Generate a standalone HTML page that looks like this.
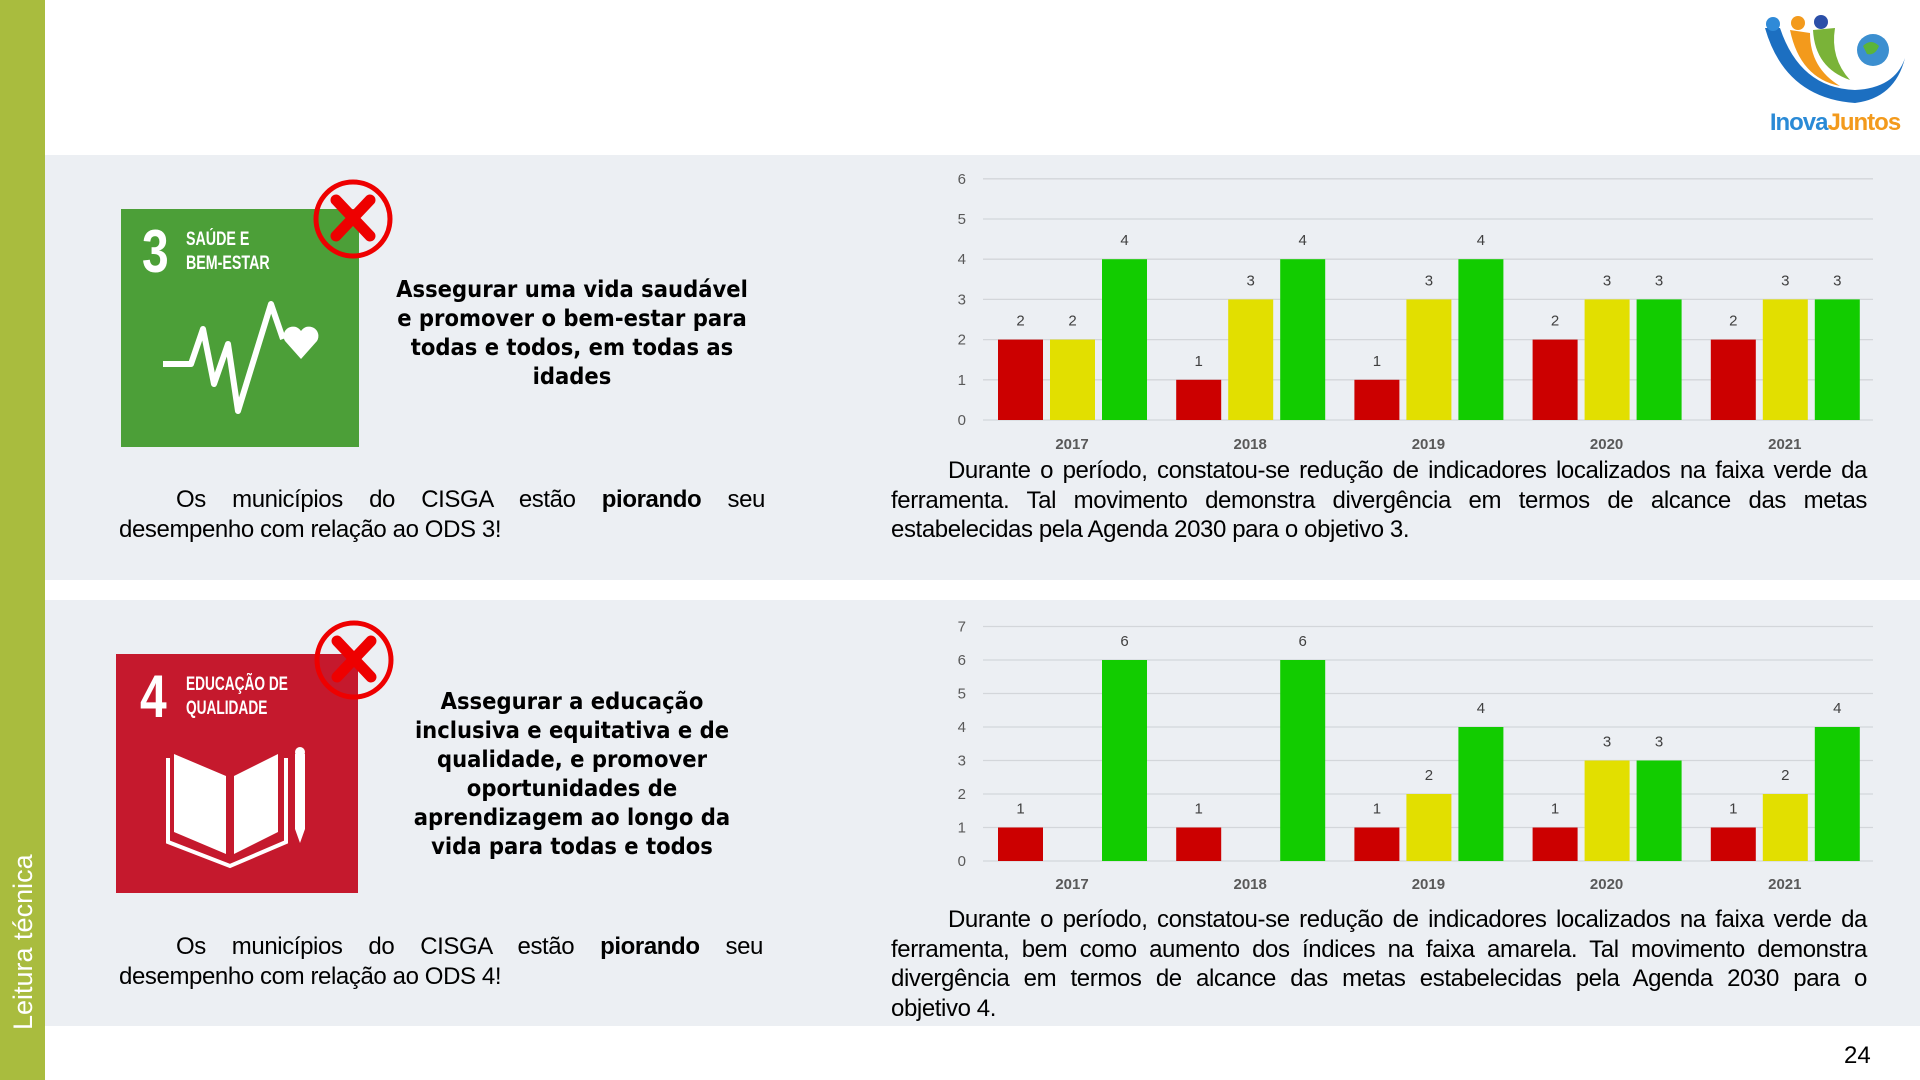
<!DOCTYPE html>
<html><head><meta charset="utf-8"><style>
*{margin:0;padding:0;box-sizing:border-box}
body{width:1920px;height:1080px;background:#fff;position:relative;overflow:hidden;font-family:"Liberation Sans","DejaVu Sans",sans-serif;color:#000}
.abs{position:absolute}
.band{position:absolute;left:45px;width:1875px;background:#eceff3}
.side{position:absolute;left:0;top:0;width:45px;height:1080px;background:#a9bc3e}
.vt{position:absolute;left:8px;top:1030px;transform-origin:0 0;transform:rotate(-90deg);color:#fff;font-size:27px;white-space:nowrap}
.title{position:absolute;text-align:center;font-weight:bold;font-size:23.5px;line-height:29px;font-family:"DejaVu Sans Condensed","Liberation Sans",sans-serif;white-space:nowrap}
.par{position:absolute;font-size:24px;line-height:29.5px;font-family:"Liberation Sans",sans-serif;letter-spacing:-0.4px;white-space:nowrap}
.par div{text-align:justify;text-align-last:justify}
.par div.l{text-align-last:left}
.par div.i{padding-left:57px}
.sdg{position:absolute;color:#fff}
.num{position:absolute;font-weight:bold;font-family:"Liberation Sans",sans-serif}
</style></head><body>
<div class="side"></div>
<div class="vt">Leitura técnica</div>
<div class="band" style="top:155px;height:425px"></div>
<div class="band" style="top:600px;height:426px"></div>

<svg class="abs" style="left:1755px;top:8px" width="160" height="130" viewBox="0 0 160 130">
<path d="M10 20 Q30 90 100 95 Q140 90 150 50 Q140 80 100 82 Q45 80 25 20Z" fill="#1c6fc1"/>
<path d="M35 22 Q45 70 85 78 Q55 60 55 25Z" fill="#f39a1c"/>
<path d="M58 22 Q60 60 95 72 Q75 50 80 20Z" fill="#7ab338"/>
<circle cx="18" cy="16" r="7" fill="#2f8ad8"/><circle cx="43" cy="15" r="7" fill="#f39a1c"/><circle cx="66" cy="14" r="7" fill="#2b4fa8"/>
<circle cx="118" cy="42" r="16" fill="#3c8fd0"/><path d="M108 38 q8-8 16 0 q-4 10-12 8z" fill="#5bb43a"/>
<text x="80" y="122" text-anchor="middle" font-family="Liberation Sans" font-weight="bold" font-size="24" letter-spacing="-1"><tspan fill="#2a8ad6">Inova</tspan><tspan fill="#f39a1c">Juntos</tspan></text>
</svg>

<div class="sdg" style="left:121px;top:209px;width:238px;height:238px;background:#4c9f38"></div>
<div class="num" style="left:142px;top:222px;color:#fff;font-size:60px;line-height:60px;transform:scaleX(.8);transform-origin:0 0">3</div>
<div class="num" style="left:186px;top:228px;color:#fff;font-size:19px;line-height:24px;transform:scaleX(.75);transform-origin:0 0;width:140px">SAÚDE E<br>BEM-ESTAR</div>
<svg class="abs" style="left:121px;top:209px" width="238" height="238">
<polyline points="42,155 70,155 82,120 93,175 107,135 117,202 150,95 162,130" fill="none" stroke="#fff" stroke-width="6" stroke-linejoin="round"/>
<path d="M180 150 l-16 -18 a9 9 0 0 1 16 -10 a9 9 0 0 1 16 10z" fill="#fff"/>
</svg>
<svg class="abs" style="left:312px;top:178px" width="82" height="82"><circle cx="41" cy="41" r="37" fill="none" stroke="#e00" stroke-width="5"/><path d="M24 22 L58 58 M58 22 L24 58" stroke="#e00" stroke-width="11" stroke-linecap="round"/></svg>
<div class="title" style="left:372px;top:275px;width:400px">Assegurar uma vida saudável<br>e promover o bem-estar para<br>todas e todos, em todas as<br>idades</div>
<div class="par" style="left:119px;top:485px;width:646px"><div class="i">Os municípios do CISGA estão <b>piorando</b> seu</div><div class="l">desempenho com relação ao ODS 3!</div></div>
<div class="par" style="left:891px;top:456px;width:976px"><div class="i">Durante o período, constatou-se redução de indicadores localizados na faixa verde da</div><div>ferramenta. Tal movimento demonstra divergência em termos de alcance das metas</div><div class="l">estabelecidas pela Agenda 2030 para o objetivo 3.</div></div>

<div class="sdg" style="left:116px;top:654px;width:242px;height:239px;background:#c5192d"></div>
<div class="num" style="left:140px;top:667px;color:#fff;font-size:60px;line-height:60px;transform:scaleX(.8);transform-origin:0 0">4</div>
<div class="num" style="left:186px;top:673px;color:#fff;font-size:19px;line-height:24px;transform:scaleX(.72);transform-origin:0 0;width:180px">EDUCAÇÃO DE<br>QUALIDADE</div>
<svg class="abs" style="left:116px;top:654px" width="242" height="239">
<path d="M58 100 L110 122 L110 200 L58 178Z M162 100 L118 122 L118 200 L162 178Z" fill="#fff"/>
<path d="M52 104 L52 188 L114 212 L170 188 L170 104" fill="none" stroke="#fff" stroke-width="4"/>
<path d="M179 100 h10 v75 l-5 14 l-5 -14z" fill="#fff"/><circle cx="184" cy="98" r="5" fill="#fff"/>
</svg>
<svg class="abs" style="left:313px;top:619px" width="82" height="82"><circle cx="41" cy="41" r="37" fill="none" stroke="#e00" stroke-width="5"/><path d="M24 22 L58 58 M58 22 L24 58" stroke="#e00" stroke-width="11" stroke-linecap="round"/></svg>
<div class="title" style="left:372px;top:687px;width:400px">Assegurar a educação<br>inclusiva e equitativa e de<br>qualidade, e promover<br>oportunidades de<br>aprendizagem ao longo da<br>vida para todas e todos</div>
<div class="par" style="left:119px;top:932px;width:644px"><div class="i">Os municípios do CISGA estão <b>piorando</b> seu</div><div class="l">desempenho com relação ao ODS 4!</div></div>
<div class="par" style="left:891px;top:905px;width:976px"><div class="i">Durante o período, constatou-se redução de indicadores localizados na faixa verde da</div><div>ferramenta, bem como aumento dos índices na faixa amarela. Tal movimento demonstra</div><div>divergência em termos de alcance das metas estabelecidas pela Agenda 2030 para o</div><div class="l">objetivo 4.</div></div>

<svg id="ch" class="abs" style="left:0;top:0" width="1920" height="1080"></svg>
<div class="abs" style="left:1844px;top:1042px;font-size:24px">24</div>

<script>
var s='';
function chart(y0,max,unit,data,ylab){
  for(var i=0;i<=max;i++){var y=y0-i*unit;
    s+='<line x1="983" x2="1873" y1="'+y+'" y2="'+y+'" stroke="#d3d6da" stroke-width="1.3"/>';
    s+='<text x="966" y="'+(y+5)+'" text-anchor="end" font-size="15" fill="#595959" font-family="Liberation Sans">'+i+'</text>';}
  var cols=['#cc0000','#e2df00','#12cc00'],yrs=['2017','2018','2019','2020','2021'];
  for(var g=0;g<5;g++){var gx=998+g*178.2;
    for(var b=0;b<3;b++){var v=data[g][b];if(!v)continue;var x=gx+b*52,h=v*unit;
      s+='<rect x="'+x+'" y="'+(y0-h)+'" width="45" height="'+h+'" fill="'+cols[b]+'"/>';
      s+='<text x="'+(x+22.5)+'" y="'+(y0-h-14)+'" text-anchor="middle" font-size="15" fill="#404040" font-family="Liberation Sans">'+v+'</text>';}
    s+='<text x="'+(gx+74)+'" y="'+ylab+'" text-anchor="middle" font-size="15" font-weight="bold" fill="#595959" font-family="Liberation Sans">'+yrs[g]+'</text>';}
}
chart(420,6,40.2,[[2,2,4],[1,3,4],[1,3,4],[2,3,3],[2,3,3]],449);
chart(861,7,33.5,[[1,0,6],[1,0,6],[1,2,4],[1,3,3],[1,2,4]],889);
document.getElementById('ch').innerHTML=s;
</script>
</body></html>
